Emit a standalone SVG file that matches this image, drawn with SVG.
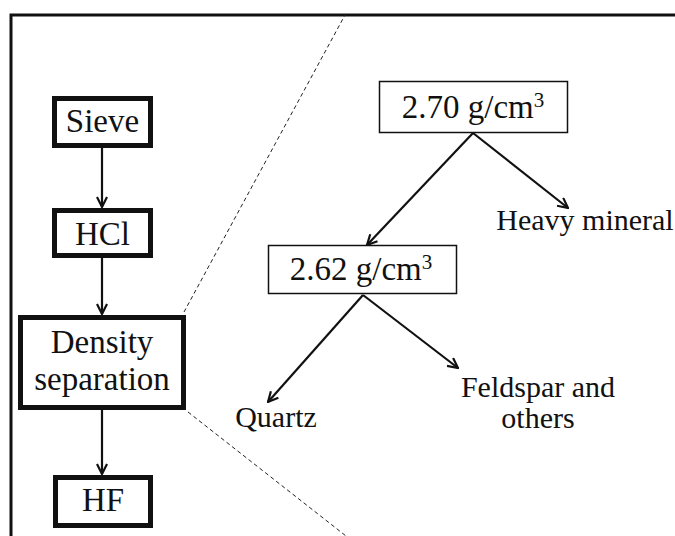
<svg xmlns="http://www.w3.org/2000/svg" width="675" height="536" viewBox="0 0 675 536">
<defs>
<marker id="ah" viewBox="0 0 12 12" refX="11" refY="6" markerWidth="12" markerHeight="12" markerUnits="userSpaceOnUse" orient="auto">
<path d="M1,1 L11,6 L1,11" fill="none" stroke="#111" stroke-width="2.2"/>
</marker>
</defs>
<rect width="675" height="536" fill="#fff"/>
<path d="M11,536 L11,15 L675,15" fill="none" stroke="#111" stroke-width="3"/>
<g id="zoom-lines" stroke="#222" stroke-width="1" fill="none" stroke-dasharray="4 3">
<path d="M184,312 L345,15"/>
<path d="M188,412 L346,536"/>
</g>
<g id="connectors" stroke="#111" stroke-width="2.2" fill="none" marker-end="url(#ah)">
<path d="M102,148 L102,207"/>
<path d="M102,258 L102,314"/>
<path d="M102,410 L102,474"/>
<path d="M473,133 L367,245"/>
<path d="M473,133 L568,208"/>
<path d="M363,295 L268,402"/>
<path d="M363,295 L458,368"/>
</g>
<g id="sieve">
<rect x="54.5" y="98.5" width="96" height="47" fill="#fff" stroke="#111" stroke-width="5"/>
<text x="102.5" y="132" font-size="33" font-family="Liberation Serif" text-anchor="middle" fill="#111">Sieve</text>
</g>
<g id="hcl">
<rect x="54.5" y="210.5" width="96" height="45" fill="#fff" stroke="#111" stroke-width="5"/>
<text x="102.5" y="245" font-size="33" font-family="Liberation Serif" text-anchor="middle" fill="#111">HCl</text>
</g>
<g id="density">
<rect x="20.5" y="317.5" width="163" height="90" fill="#fff" stroke="#111" stroke-width="5"/>
<text x="102" y="353" font-size="33" font-family="Liberation Serif" text-anchor="middle" fill="#111">Density</text>
<text x="102" y="390" font-size="33" font-family="Liberation Serif" text-anchor="middle" fill="#111">separation</text>
</g>
<g id="hf">
<rect x="55.5" y="477.5" width="95" height="48" fill="#fff" stroke="#111" stroke-width="5"/>
<text x="103" y="511" font-size="33" font-family="Liberation Serif" text-anchor="middle" fill="#111">HF</text>
</g>
<g id="d270">
<rect x="379.5" y="81.5" width="188" height="51" fill="#fff" stroke="#111" stroke-width="1.5"/>
<text x="473" y="118" font-size="33" font-family="Liberation Serif" text-anchor="middle" fill="#111">2.70 g/cm<tspan font-size="21" dy="-11">3</tspan></text>
</g>
<g id="d262">
<rect x="268.5" y="245.5" width="188" height="48" fill="#fff" stroke="#111" stroke-width="1.5"/>
<text x="361" y="280" font-size="33" font-family="Liberation Serif" text-anchor="middle" fill="#111">2.62 g/cm<tspan font-size="21" dy="-11">3</tspan></text>
</g>
<g id="heavy">
<text x="585" y="230" font-size="30" font-family="Liberation Serif" text-anchor="middle" fill="#111">Heavy mineral</text>
</g>
<g id="quartz">
<text x="276" y="427" font-size="30" font-family="Liberation Serif" text-anchor="middle" fill="#111">Quartz</text>
</g>
<g id="feldspar">
<text x="538" y="397" font-size="30" font-family="Liberation Serif" text-anchor="middle" fill="#111">Feldspar and</text>
<text x="538" y="428" font-size="30" font-family="Liberation Serif" text-anchor="middle" fill="#111">others</text>
</g>
</svg>
